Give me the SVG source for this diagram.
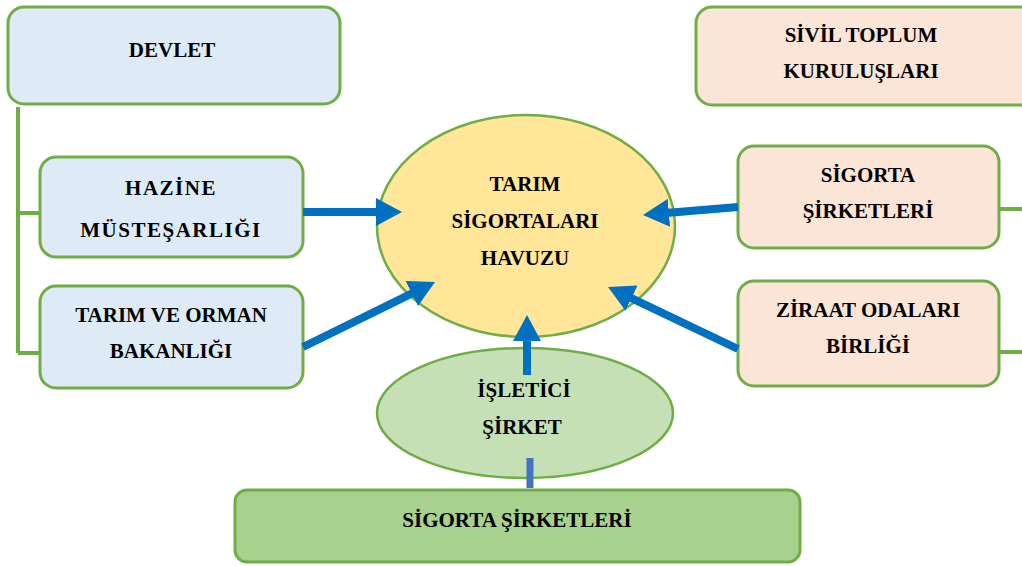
<svg xmlns="http://www.w3.org/2000/svg" width="1022" height="566" viewBox="0 0 1022 566">
<style>
.box{stroke:#70AD47;stroke-width:3}
.blue{fill:#DEEBF7}
.peach{fill:#FBE5D6}
text{font-family:'Liberation Serif','Times New Roman','DejaVu Serif',serif;font-weight:700;font-size:21px;fill:#000;text-anchor:middle}
.arr{stroke:#0070C0;stroke-width:8;fill:none;marker-end:url(#ah)}
.br{stroke:#70AD47;stroke-width:4;fill:none}
</style>
<defs>
<marker id="ah" markerUnits="userSpaceOnUse" markerWidth="26" markerHeight="28" viewBox="0 0 26 28" refX="6" refY="14" orient="auto">
<path d="M0,0 L26,14 L0,28 z" fill="#0070C0"/>
</marker>
<linearGradient id="fade" x1="0" y1="0" x2="0" y2="1">
<stop offset="0" stop-color="#70AD47"/>
<stop offset="1" stop-color="#70AD47" stop-opacity="0.15"/>
</linearGradient>
</defs>
<rect width="1022" height="566" fill="#fff"/>
<g id="brackets">
<path class="br" d="M18,107 V353 M18,213 H40 M18,353 H40"/>
<path d="M1020,112 V350" stroke="url(#fade)" stroke-width="3" fill="none"/>
<path class="br" d="M1000,209 H1022 M1000,352 H1022"/>
</g>
<g id="devlet">
<rect class="box blue" x="8" y="7" width="332" height="97" rx="16"/>
<text x="172" y="57">DEVLET</text>
</g>
<g id="sivil">
<rect class="box peach" x="696" y="7" width="340" height="98" rx="16"/>
<text x="861" y="42">SİVİL TOPLUM</text>
<text x="861" y="78">KURULUŞLARI</text>
</g>
<g id="hazine">
<rect class="box blue" x="40" y="157" width="263" height="100" rx="16"/>
<text x="171" y="195" letter-spacing="1.5">HAZİNE</text>
<text x="171" y="237" letter-spacing="1.5">MÜSTEŞARLIĞI</text>
</g>
<g id="tarim">
<rect class="box blue" x="40" y="286" width="263" height="102" rx="16"/>
<text x="171" y="322">TARIM VE ORMAN</text>
<text x="171" y="358">BAKANLIĞI</text>
</g>
<g id="sigorta">
<rect class="box peach" x="738" y="146" width="261" height="102" rx="16"/>
<text x="868" y="182">SİGORTA</text>
<text x="868" y="218">ŞİRKETLERİ</text>
</g>
<g id="ziraat">
<rect class="box peach" x="738" y="281" width="261" height="105" rx="16"/>
<text x="868" y="317">ZİRAAT ODALARI</text>
<text x="868" y="353">BİRLİĞİ</text>
</g>
<g id="havuz">
<ellipse cx="526" cy="226" rx="149" ry="111" fill="#FFE699" stroke="#70AD47" stroke-width="2.5"/>
<text x="525" y="191">TARIM</text>
<text x="525" y="228">SİGORTALARI</text>
<text x="525" y="265">HAVUZU</text>
</g>
<g id="isletici">
<ellipse cx="525" cy="413" rx="148" ry="65" fill="#C5E0B4" stroke="#70AD47" stroke-width="2.5"/>
<text x="524" y="397">İŞLETİCİ</text>
<text x="522" y="434">ŞİRKET</text>
</g>
<g id="sigorta-alt">
<rect class="box" x="235" y="490" width="565" height="72" rx="12" fill="#A9D18E"/>
<text x="517" y="527">SİGORTA ŞİRKETLERİ</text>
</g>
<g id="connectors">
<path class="arr" d="M303,212 L382,212"/>
<path class="arr" d="M303,347 L417.1,290.8"/>
<path class="arr" d="M738,207 L662.9,213.3"/>
<path class="arr" d="M738,349 L626.1,295.6"/>
<path class="arr" d="M527,375 L527,335"/>
<path d="M530,458 V488" stroke="#4472C4" stroke-width="7" fill="none"/>
</g>
</svg>
